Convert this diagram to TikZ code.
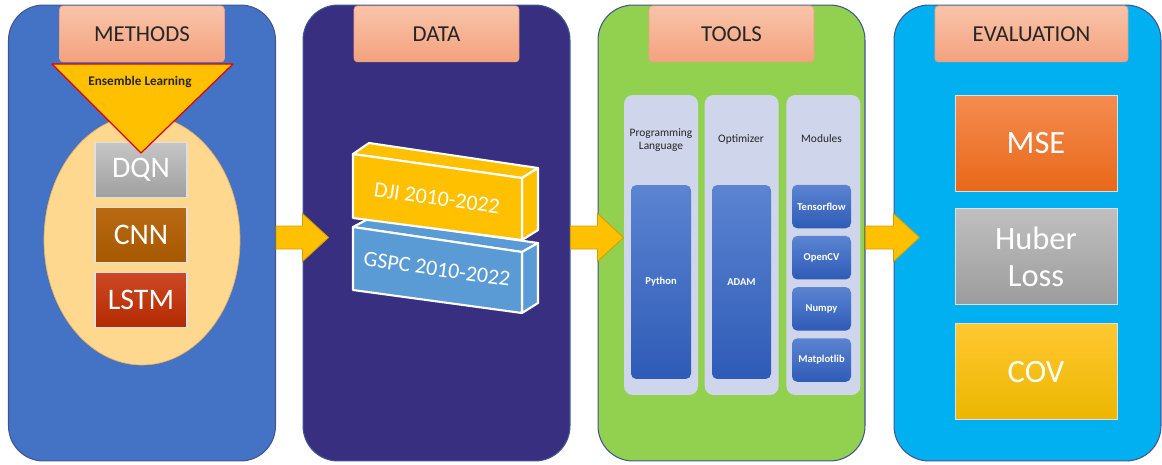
\documentclass[tikz,border=0pt]{standalone}
\usepackage{fontspec}
\setmainfont{Carlito}
\usepackage{xcolor}
\usepackage{tikz}
\usetikzlibrary{calc}
\usetikzlibrary{shapes.geometric, positioning}

\definecolor{methodsblue}{HTML}{4472C4}
\definecolor{datapurple}{HTML}{382F80}
\definecolor{toolsgreen}{HTML}{92D050}
\definecolor{evalcyan}{HTML}{00B0F0}
\definecolor{paneledge}{HTML}{41558F}
\definecolor{tabtop}{HTML}{F8C4AA}
\definecolor{tabbot}{HTML}{F4A27E}
\definecolor{tabedge}{HTML}{F0A080}
\definecolor{arrowfill}{HTML}{FFC000}
\definecolor{arrowedge}{HTML}{D39E00}
\definecolor{poolfill}{HTML}{FFD88F}
\definecolor{pooledge}{HTML}{E8B060}
\definecolor{colfill}{HTML}{CFD5EA}
\definecolor{tooltop}{HTML}{5B84D1}
\definecolor{toolbot}{HTML}{2E5BB7}
\definecolor{djiyellow}{HTML}{FFC000}
\definecolor{gspcblue}{HTML}{5B9BD5}

\tikzstyle{panel} = [draw=paneledge, line width=0.6pt,
	rounded corners=0.7cm,
	minimum width=5.34cm,
	minimum height=9.12cm]
\tikzstyle{tab} = [draw=tabedge, top color=tabtop, bottom color=tabbot,
	rounded corners=2pt,
	minimum width=3.3cm,
	minimum height=1.12cm,
	text=black!85, font=\fontsize{13}{15}\selectfont]
\tikzstyle{mbox} = [draw=white!75!gray, line width=0.6pt,
	minimum width=1.84cm,
	minimum height=1.1cm,
	text=white, font=\fontsize{17}{19}\selectfont]
\tikzstyle{ebox} = [draw=white!75!gray, line width=0.5pt,
	minimum width=3.24cm,
	minimum height=1.92cm,
	align=center,
	text=white, font=\fontsize{18.5}{21}\selectfont]
\tikzstyle{column} = [fill=colfill, rounded corners=5pt,
	minimum width=1.48cm,
	minimum height=6cm]
\tikzstyle{head} = [align=center, text=black!85, font=\fontsize{6.5}{7.5}\selectfont]
\tikzstyle{tbox} = [top color=tooltop, bottom color=toolbot,
	rounded corners=3pt, inner xsep=1pt,
	text=white, font=\bfseries\fontsize{6}{7}\selectfont]
\tikzstyle{face} = [draw=white, line width=1.2pt, line join=round]
\tikzstyle{flow} = [fill=arrowfill, draw=arrowedge, line width=0.5pt]
\newcommand{\flowarrow}[2]{\draw[flow]
	($(#1.east)+(0,-7)$) -- ($(#2.west)+(0,-7)$)
	-- ($(#2.west)+(0,-19.5)$) -- ($(#2.west)+(26,4.5)$)
	-- ($(#2.west)+(0,28.5)$) -- ($(#2.west)+(0,16)$)
	-- ($(#1.east)+(0,16)$) -- cycle}

\begin{document}
\begin{tikzpicture}[x=0.02cm, y=-0.02cm]
	\useasboundingbox (0,0) rectangle (1162,464);
	
	% the four stages
	\node (methods) [panel, fill=methodsblue] at (142,233) {};
	\node (data) [panel, fill=datapurple, right=0.53cm of methods] {};
	\node (tools) [panel, fill=toolsgreen, right=0.54cm of data] {};
	\node (eval) [panel, fill=evalcyan, right=0.56cm of tools] {};
	
	\flowarrow{methods}{data};
	\flowarrow{data}{tools};
	\flowarrow{tools}{eval};
	
	\node (methodstab) [tab, below=0.02cm of methods.north] {METHODS};
	\node (datatab) [tab, below=0.02cm of data.north] {DATA};
	\node (toolstab) [tab, below=0.02cm of tools.north] {TOOLS};
	\node (evaltab) [tab, minimum width=3.86cm, below=0.02cm of eval.north, xshift=0.08cm] {EVALUATION};
	
	% methods
	\node (pool) [ellipse, draw=pooledge, fill=poolfill,
		minimum width=3.92cm, minimum height=5cm] at (142,240) {};
	\node (dqn) [mbox, top color=gray!45, bottom color=gray!75] at (141,170) {DQN};
	\node (cnn) [mbox, top color={rgb,255:red,185;green,106;blue,18}, bottom color={rgb,255:red,166;green,88;blue,0},
		below=0.18cm of dqn] {CNN};
	\node (lstm) [mbox, top color={rgb,255:red,205;green,72;blue,35}, bottom color={rgb,255:red,178;green,42;blue,0},
		below=0.18cm of cnn] {LSTM};
	\filldraw[fill=arrowfill, draw=red!90!black, line width=0.7pt, line join=round]
		(52,64) -- (233,64) -- (141,153) -- cycle;
	\node (ensemble) [font=\bfseries\fontsize{7.5}{9}\selectfont, text=black!85] at (140,82) {Ensemble Learning};
	
	% data
	\filldraw[face, fill=gspcblue] (353,227) -- (368,219) -- (538,243) -- (522,252) -- cycle;
	\filldraw[face, fill=gspcblue] (522,252) -- (538,243) -- (538,303) -- (522,313) -- cycle;
	\filldraw[face, fill=gspcblue] (353,227) -- (522,252) -- (522,313) -- (353,290) -- cycle;
	\filldraw[face, fill=djiyellow] (353,154) -- (369,143) -- (538,168) -- (522,178) -- cycle;
	\filldraw[face, fill=djiyellow] (522,178) -- (538,168) -- (538,230) -- (522,240) -- cycle;
	\filldraw[face, fill=djiyellow] (353,154) -- (522,178) -- (522,240) -- (353,218) -- cycle;
	\node (dji) [rotate=-8, text=white, font=\fontsize{12.5}{14}\selectfont] at (437,198) {DJI 2010-2022};
	\node (gspc) [rotate=-8, text=white, font=\fontsize{12.5}{14}\selectfont] at (437,269) {GSPC 2010-2022};
	
	% tools
	\node (langcol) [column] at (661,245) {};
	\node (optcol) [column, right=0.12cm of langcol] {};
	\node (modcol) [column, right=0.14cm of optcol] {};
	\node (langhead) [head] at (661,140) {Programming\\Language};
	\node (opthead) [head] at (741,139) {Optimizer};
	\node (modhead) [head] at (821.5,139) {Modules};
	\node (python) [tbox, minimum width=1.2cm, minimum height=3.88cm] at (661,282) {Python};
	\node (adam) [tbox, minimum width=1.18cm, minimum height=3.88cm] at (741.5,282) {ADAM};
	\node (tensorflow) [tbox, minimum width=1.18cm, minimum height=0.87cm] at (821.5,206.5) {Tensorflow};
	\node (opencv) [tbox, minimum width=1.18cm, minimum height=0.87cm, below=0.14cm of tensorflow] {OpenCV};
	\node (numpy) [tbox, minimum width=1.18cm, minimum height=0.87cm, below=0.14cm of opencv] {Numpy};
	\node (matplotlib) [tbox, minimum width=1.18cm, minimum height=0.87cm, below=0.14cm of numpy] {Matplotlib};
	
	% evaluation
	\node (mse) [ebox, top color={rgb,255:red,244;green,140;blue,80}, bottom color={rgb,255:red,232;green,104;blue,24}] at (1036,143) {MSE};
	\node (huber) [ebox, top color=gray!50, bottom color=gray!78, below=0.34cm of mse] {Huber\\Loss};
	\node (cov) [ebox, top color={rgb,255:red,255;green,200;blue,48}, bottom color={rgb,255:red,236;green,182;blue,0},
		below=0.36cm of huber] {COV};
\end{tikzpicture}
\end{document}
